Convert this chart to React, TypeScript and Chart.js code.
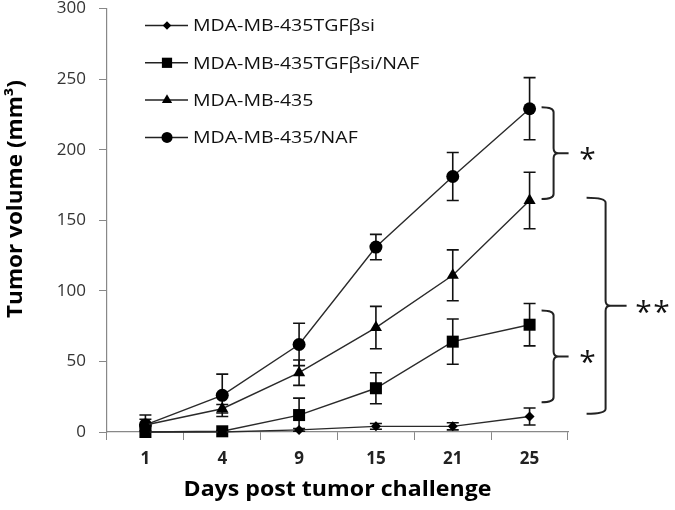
import React, { useEffect, useRef } from "react";
import { Chart, registerables } from "chart.js";
import { drawPoint } from "chart.js/helpers";

Chart.register(...registerables);

const days = ["1", "4", "9", "15", "21", "25"];
const seriesNames = ["MDA-MB-435TGFβsi", "MDA-MB-435TGFβsi/NAF", "MDA-MB-435", "MDA-MB-435/NAF"];
const tgfSi = [0, 0, 1.5, 4, 4, 11];
const tgfSiErr = [0, 0, 1, 2, 2.5, 6];
const tgfSiNaf = [0, 0.5, 12, 31, 64, 76];
const tgfSiNafErr = [0, 0.5, 12, 11, 16, 15];
const mda = [5, 16.5, 42, 74, 111, 164];
const mdaErr = [4, 3, 9, 15, 18, 20];
const mdaNaf = [5, 26, 62, 131, 181, 229];
const mdaNafErr = [7, 15, 15, 9, 17, 22];
const yTicks = [0, 50, 100, 150, 200, 250, 300];
const bracketTop = [230, 166, 86];
const bracketBottom = [165, 13, 21];
const bracketLabel = ["*", "**", "*"];
const bracketLevel = [0, 1, 0];
const yTitle = "Tumor volume (mm³)";
const xTitle = "Days post tumor challenge";

const pointStyles = ["rectRot", "rect", "triangle", "circle"];
const pointRadii = [5, 8.5, 7, 6.5];

const FONT = "'Open Sans', 'Noto Sans', sans-serif";

function stretchedText(ctx: any, text: string, x: number, y: number, sx: number, align: string) {
  ctx.save();
  ctx.translate(x, y);
  ctx.scale(sx, 1);
  ctx.textAlign = align;
  ctx.fillText(text, 0, 0);
  ctx.restore();
}

const errorBarPlugin = {
  id: "errorBars",
  beforeDatasetsDraw(chart: any) {
    const ctx = chart.ctx;
    const y = chart.scales.y;
    const area = chart.chartArea;
    ctx.save();
    ctx.beginPath();
    ctx.rect(area.left, area.top - 20, area.right - area.left, area.bottom - area.top + 20);
    ctx.clip();
    ctx.strokeStyle = "#111";
    ctx.lineWidth = 1.6;
    chart.data.datasets.forEach((ds: any, i: number) => {
      const meta = chart.getDatasetMeta(i);
      meta.data.forEach((pt: any, j: number) => {
        const v = ds.data[j];
        const e = ds.errors[j];
        if (!e) return;
        const yt = y.getPixelForValue(v + e);
        const yb = y.getPixelForValue(v - e);
        const x = pt.x;
        ctx.beginPath();
        ctx.moveTo(x, yt);
        ctx.lineTo(x, yb);
        ctx.moveTo(x - 6, yt);
        ctx.lineTo(x + 6, yt);
        ctx.moveTo(x - 6, yb);
        ctx.lineTo(x + 6, yb);
        ctx.stroke();
      });
    });
    ctx.restore();
  },
};

const decorPlugin = {
  id: "decor",
  afterDraw(chart: any) {
    const ctx = chart.ctx;
    const area = chart.chartArea;
    const xs = chart.scales.x;
    const ys = chart.scales.y;
    ctx.save();

    // Legend
    ctx.font = `17px ${FONT}`;
    const legendScale = 182 / ctx.measureText(seriesNames[0]).width;
    chart.data.datasets.forEach((ds: any, i: number) => {
      const yy = area.top + 17 + i * 37.3;
      ctx.strokeStyle = "#222";
      ctx.lineWidth = 1.5;
      ctx.beginPath();
      ctx.moveTo(area.left + 38, yy);
      ctx.lineTo(area.left + 81, yy);
      ctx.stroke();
      ctx.fillStyle = "#000";
      drawPoint(ctx, { pointStyle: ds.pointStyle, radius: ds.pointRadius * 0.85, borderWidth: 0, rotation: 0 }, area.left + 60, yy);
      ctx.fillStyle = "#111";
      ctx.font = `17px ${FONT}`;
      ctx.textBaseline = "middle";
      stretchedText(ctx, ds.label, area.left + 86, yy + 1, legendScale, "left");
    });

    // Brackets
    const xLast = xs.getPixelForValue(days.length - 1);
    bracketTop.forEach((tv, k) => {
      const lvl = bracketLevel[k];
      const x0 = xLast + (lvl ? 57 : 12);
      const xv = xLast + (lvl ? 76 : 24);
      const xt = xLast + (lvl ? 97 : 39);
      const xl = xLast + (lvl ? 123 : 58);
      const top = ys.getPixelForValue(tv);
      const bot = ys.getPixelForValue(bracketBottom[k]);
      const mid = (top + bot) / 2;
      const r = 5;
      ctx.strokeStyle = "#222";
      ctx.lineWidth = 2;
      ctx.beginPath();
      ctx.moveTo(x0, top);
      ctx.quadraticCurveTo(xv, top, xv, top + r);
      ctx.lineTo(xv, mid - r);
      ctx.quadraticCurveTo(xv, mid, xv + r, mid);
      ctx.lineTo(xt, mid);
      ctx.moveTo(xv + r, mid);
      ctx.quadraticCurveTo(xv, mid, xv, mid + r);
      ctx.lineTo(xv, bot - r);
      ctx.quadraticCurveTo(xv, bot, x0, bot);
      ctx.stroke();

      ctx.fillStyle = "#111";
      ctx.font = `30px ${FONT}`;
      ctx.textAlign = "center";
      ctx.textBaseline = "alphabetic";
      const chars = bracketLabel[k].split("");
      const gap = 18;
      chars.forEach((c, ci) => {
        const m = ctx.measureText(c);
        const cx = xl + (ci - (chars.length - 1) / 2) * gap;
        ctx.fillText(c, cx, mid + m.actualBoundingBoxAscent - (m.actualBoundingBoxAscent + m.actualBoundingBoxDescent) / 2 + 1);
      });
    });

    // Axis titles
    ctx.fillStyle = "#000";
    ctx.font = `bold 21px ${FONT}`;
    ctx.textBaseline = "middle";
    const ysx = 238 / ctx.measureText(yTitle).width;
    ctx.save();
    ctx.translate(16, 199);
    ctx.rotate(-Math.PI / 2);
    stretchedText(ctx, yTitle, 0, 0, ysx, "center");
    ctx.restore();
    ctx.font = `bold 21px ${FONT}`;
    const xsx = 308 / ctx.measureText(xTitle).width;
    stretchedText(ctx, xTitle, (area.left + area.right) / 2, 490, xsx, "center");

    ctx.restore();
  },
};

export default function App() {
  const ref = useRef<HTMLCanvasElement>(null);
  useEffect(() => {
    if (!ref.current) return;
    const seriesData = [tgfSi, tgfSiNaf, mda, mdaNaf];
    const seriesErr = [tgfSiErr, tgfSiNafErr, mdaErr, mdaNafErr];
    const chart = new Chart(ref.current, {
      type: "line",
      data: {
        labels: days,
        datasets: seriesNames.map((name, i) => ({
          label: name,
          data: seriesData[i],
          errors: seriesErr[i],
          borderColor: "#2a2a2a",
          borderWidth: 1.4,
          backgroundColor: "#000",
          pointStyle: pointStyles[i],
          pointRadius: pointRadii[i],
          pointBorderWidth: 0,
          pointBackgroundColor: "#000",
          tension: 0,
          clip: false,
        })) as any,
      },
      options: {
        animation: false,
        responsive: false,
        devicePixelRatio: 1,
        layout: { padding: { left: 0, top: 8, right: 107, bottom: 0 } },
        plugins: { legend: { display: false }, tooltip: { enabled: false } },
        scales: {
          x: {
            type: "category",
            offset: true,
            border: { color: "#888", width: 1.2 },
            grid: { display: true, drawOnChartArea: false, drawTicks: true, tickLength: 8, color: "#888", offset: true },
            ticks: { color: "#222", font: { family: FONT, size: 17, weight: "bold" }, padding: 9 },
            afterFit: (s: any) => {
              s.height = 78;
              s.paddingLeft = 0;
              s.paddingRight = 0;
            },
          },
          y: {
            min: yTicks[0],
            max: yTicks[yTicks.length - 1],
            border: { color: "#888", width: 1.2 },
            grid: { display: true, drawOnChartArea: false, drawTicks: true, tickLength: 8, color: "#888" },
            ticks: { color: "#333", font: { family: FONT, size: 17 }, padding: 13 },
            afterBuildTicks: (s: any) => {
              s.ticks = yTicks.map((v) => ({ value: v }));
            },
            afterFit: (s: any) => {
              s.width = 107;
              s.paddingTop = 0;
              s.paddingBottom = 0;
            },
          },
        },
      },
      plugins: [errorBarPlugin, decorPlugin],
    } as any);
    return () => chart.destroy();
  }, []);
  return (
    <div style={{ position: "absolute", left: 0, top: 0, width: 675, height: 510 }}>
      <canvas ref={ref} width={675} height={510} style={{ display: "block" }} />
    </div>
  );
}
